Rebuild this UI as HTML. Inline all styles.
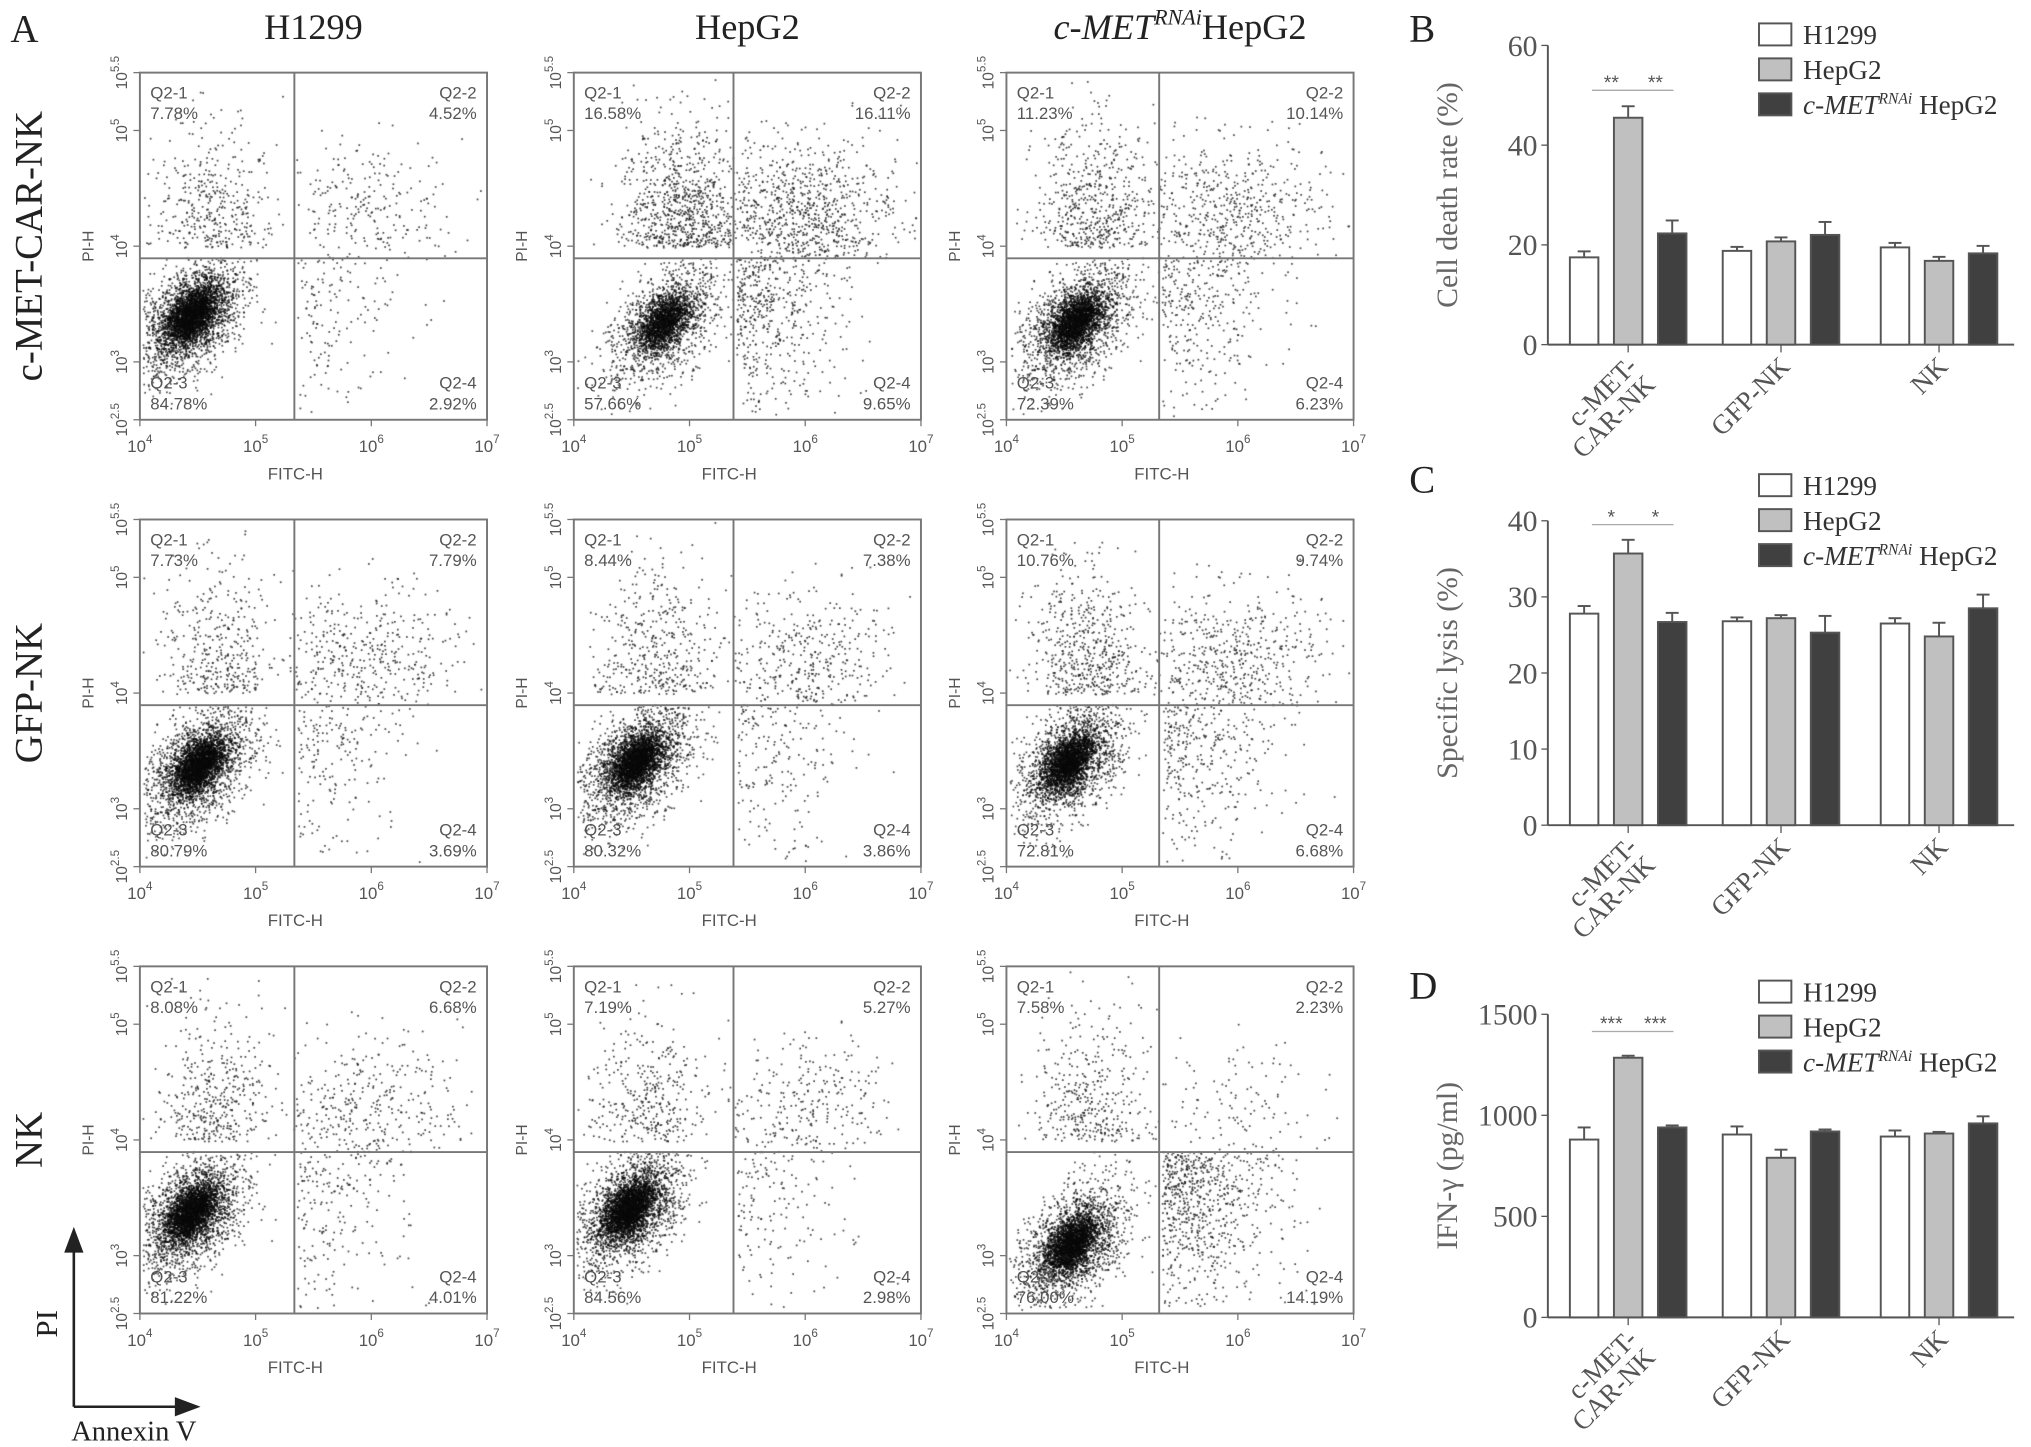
<!DOCTYPE html>
<html><head><meta charset="utf-8"><style>
html,body{margin:0;padding:0;background:#fff;width:2031px;height:1447px;overflow:hidden}
#wrap{position:relative;width:2031px;height:1447px}
svg,canvas{position:absolute;left:0;top:0}
</style></head><body>
<div id="wrap">
<canvas id="cv" width="2031" height="1447"></canvas>
<svg id="sv" width="2031" height="1447" viewBox="0 0 1568 1117" font-family="Liberation Sans, sans-serif"></svg>
</div>
<script>
// ---------- data ----------
const rowLabels = ["c-MET-CAR-NK","GFP-NK","NK"];
const q1 = [[7.78,16.58,11.23],[7.73,8.44,10.76],[8.08,7.19,7.58]];
const q2 = [[4.52,16.11,10.14],[7.79,7.38,9.74],[6.68,5.27,2.23]];
const q3 = [[84.78,57.66,72.39],[80.79,80.32,72.81],[81.22,84.56,76.00]];
const q4 = [[2.92,9.65,6.23],[3.69,3.86,6.68],[4.01,2.98,14.19]];
const gateX = [[0.445,0.46,0.44],[0.445,0.46,0.44],[0.445,0.46,0.44]];
const gateY = [[0.465,0.465,0.465],[0.465,0.465,0.465],[0.465,0.465,0.465]];
const clusterX = [[0.15,0.26,0.20],[0.17,0.18,0.18],[0.15,0.16,0.19]];
const clusterY = [[0.30,0.28,0.28],[0.29,0.30,0.30],[0.29,0.30,0.20]];

const groups = ["c-MET-|CAR-NK","GFP-NK","NK"];
const seriesNames = ["H1299","HepG2","c-MET RNAi HepG2"];
const bH = [17.5,18.8,19.5], bHe=[1.2,0.8,0.9];
const bG = [45.5,20.7,16.8], bGe=[2.3,0.8,0.8];
const bM = [22.3,22.0,18.3], bMe=[2.6,2.6,1.5];
const cH = [27.8,26.8,26.5], cHe=[1.0,0.5,0.7];
const cG = [35.7,27.2,24.8], cGe=[1.8,0.4,1.8];
const cM = [26.7,25.3,28.5], cMe=[1.2,2.2,1.8];
const dH = [880,905,895], dHe=[60,40,30];
const dG = [1285,790,910], dGe=[10,40,8];
const dM = [940,920,960], dMe=[10,10,35];
const bTicks=[0,20,40,60], cTicks=[0,10,20,30,40], dTicks=[0,500,1000,1500];

// ---------- helpers ----------
const NS="http://www.w3.org/2000/svg";
const sv=document.getElementById('sv');
function mk(tag,at,parent){const e=document.createElementNS(NS,tag);for(const k in at)e.setAttribute(k,at[k]);(parent||sv).appendChild(e);return e;}
function tx(x,y,s,at,parent){const e=mk('text',Object.assign({x:x,y:y},at),parent);e.textContent=s;return e;}
const ctx=document.getElementById('cv').getContext('2d');
ctx.scale(2031/1568,1447/1117);
let seed=12345;function rnd(){seed=(seed*1103515245+12345)&0x7fffffff;return seed/0x7fffffff;}
function gauss(){let u=rnd()||1e-6,v=rnd();return Math.sqrt(-2*Math.log(u))*Math.cos(2*Math.PI*v);}

// ---------- titles ----------
let t;
t=tx(8,32,"A",{'font-family':'Liberation Serif, serif','font-size':30,fill:'#222'});
const colX=[108,443,777], rowY=[56,401,746], S=268;
const heads=["H1299","HepG2",null];
heads.forEach((h,i)=>{if(h){const e=tx(colX[i]+S/2,30,h,{'font-family':'Liberation Serif, serif','font-size':28,fill:'#222','text-anchor':'middle'});}});
{const e=mk('text',{x:colX[2]+S/2,y:30,'font-family':'Liberation Serif, serif','font-size':28,fill:'#222','text-anchor':'middle'});

e.innerHTML='<tspan font-style="italic">c-MET</tspan><tspan font-style="italic" font-size="17" dy="-11">RNAi</tspan><tspan dy="11">HepG2</tspan>';}
rowLabels.forEach((r,i)=>{const cy=rowY[i]+S/2;const e=tx(0,0,r,{'font-family':'Liberation Serif, serif','font-size':30,fill:'#222','text-anchor':'middle',transform:`translate(32,${cy}) rotate(-90)`});});
{const g=mk('g',{stroke:'#222','stroke-width':2,fill:'#222'});
mk('line',{x1:57,y1:1086,x2:57,y2:962},g);mk('polygon',{points:'51,966 63,966 57,950'},g);
mk('line',{x1:57,y1:1086,x2:140,y2:1086},g);mk('polygon',{points:'136,1080 136,1092 152,1086'},g);
let e=tx(0,0,"PI",{'font-family':'Liberation Serif, serif','font-size':24,fill:'#222','text-anchor':'middle',transform:'translate(44,1022) rotate(-90)'});
e=tx(55,1112,"Annexin V",{'font-family':'Liberation Serif, serif','font-size':22,fill:'#222'});}

// ---------- flow panels ----------
const xt=["4","5","6","7"], yt=[["2.5",0],["3",1/6],["4",0.5],["5",5/6],["5.5",1]];
for(let r=0;r<3;r++)for(let c=0;c<3;c++){
  const x0=colX[c], y0=rowY[r];
  const g=mk('g',{});
  const gx=x0+gateX[r][c]*S, gy=y0+S-gateY[r][c]*S;
  const N=5000, gfx=gateX[r][c], gfy=gateY[r][c];
  const quads=[[q1[r][c],0],[q2[r][c],1],[q3[r][c],2],[q4[r][c],3]];
  quads.forEach(([p,q])=>{const n=Math.round(N*p/100);
    for(let k=0;k<n;k++){let fx,fy,tries=0;
      do{ if(q===2){const a=gauss(),b=gauss();const core=rnd()<0.55;const s=core?0.6:1.3;
            fx=clusterX[r][c]+(a*0.05+b*0.035)*s;fy=clusterY[r][c]+(a*0.06-b*0.03)*s;}
        else if(q===0){fx=clusterX[r][c]+0.06+gauss()*0.09;fy=gfy+0.03+Math.abs(gauss())*0.17;}
        else if(q===1){fx=gfx+0.2+gauss()*0.14;fy=gfy+0.12+gauss()*0.11;}
        else {fx=gfx+0.01+Math.abs(gauss())*0.15;fy=gfy-Math.abs(gauss())*0.22;}
        tries++;
      }while(tries<30&&(fx<0.01||fx>0.99||fy<0.01||fy>0.99||((q===0||q===2)&&fx>gfx)||((q===1||q===3)&&fx<gfx)||((q===0||q===1)&&fy<gfy)||((q===2||q===3)&&fy>gfy)));
      ctx.fillStyle=q===2?'rgba(10,10,10,0.75)':'rgba(30,30,30,0.85)';
      ctx.fillRect(x0+fx*S-0.65,y0+S-fy*S-0.65,1.3,1.3);}
  });
  const box=mk('rect',{x:x0,y:y0,width:S,height:S,fill:'none',stroke:'#777','stroke-width':1.5},g);
  
  let l=mk('line',{x1:gx,y1:y0,x2:gx,y2:y0+S,stroke:'#777','stroke-width':1.5},g);
  l=mk('line',{x1:x0,y1:gy,x2:x0+S,y2:gy,stroke:'#777','stroke-width':1.5},g);
  xt.forEach((v,i)=>{const xx=x0+i*S/3;mk('line',{x1:xx,y1:y0+S,x2:xx,y2:y0+S+5,stroke:'#777'},g);
    const e=mk('text',{x:xx,y:y0+S+25,'font-size':13,fill:'#555','text-anchor':'middle'},g);
    e.innerHTML='10<tspan font-size="9" dy="-7">'+v+'</tspan>';});
  yt.forEach(([v,f])=>{const yy=y0+S-f*S;mk('line',{x1:x0-5,y1:yy,x2:x0,y2:yy,stroke:'#777'},g);
    const e=mk('text',{'font-size':12,fill:'#555','text-anchor':'middle',transform:`translate(${x0-10},${yy}) rotate(-90)`},g);
    e.innerHTML='10<tspan font-size="9" dy="-6">'+v+'</tspan>';});
  let e=tx(x0+S/2-14,y0+S+46,"FITC-H",{'font-size':13,fill:'#555','text-anchor':'middle'},g);
  e=tx(0,0,"PI-H",{'font-size':12,fill:'#555','text-anchor':'middle',transform:`translate(${x0-36},${y0+S/2}) rotate(-90)`},g);
  const f=v=>v.toFixed(2)+"%";
  const lab=[[x0+8,y0+20,"Q2-1",'start'],[x0+8,y0+36,f(q1[r][c]),'start'],[x0+S-8,y0+20,"Q2-2",'end'],[x0+S-8,y0+36,f(q2[r][c]),'end'],
    [x0+8,y0+S-24,"Q2-3",'start'],[x0+8,y0+S-8,f(q3[r][c]),'start'],[x0+S-8,y0+S-24,"Q2-4",'end'],[x0+S-8,y0+S-8,f(q4[r][c]),'end']];
  lab.forEach(a=>{const e=tx(a[0],a[1],a[2],{'font-size':13,fill:'#555','text-anchor':a[3]},g);});
}

// ---------- bar charts ----------
function barChart(label,ly,y0,yTop,vmax,ticks,title,H,He,G,Ge,M,Me,stars,sigY){
  const ax=1195, ax2=1555;
  const g=mk('g',{});
  const yv=v=>y0-(v/vmax)*(y0-yTop);
  let e=tx(1088,ly,label,{'font-family':'Liberation Serif, serif','font-size':30,fill:'#222'},g);
  mk('line',{x1:ax,y1:yTop,x2:ax,y2:y0,stroke:'#555','stroke-width':1.5},g);
  mk('line',{x1:ax,y1:y0,x2:ax2,y2:y0,stroke:'#555','stroke-width':1.5},g);
  ticks.forEach(v=>{const yy=yv(v);mk('line',{x1:ax-5,y1:yy,x2:ax,y2:yy,stroke:'#555'},g);
    const e=tx(ax-8,yy+8,String(v),{'font-family':'Liberation Serif, serif','font-size':23,fill:'#555','text-anchor':'end'},g);});
  e=tx(0,0,title,{'font-family':'Liberation Serif, serif','font-size':23,fill:'#666','text-anchor':'middle',transform:`translate(1125,${(y0+yTop)/2}) rotate(-90)`},g);
  const centers=[1257,1375,1497], fills=['#fff','#c0c0c0','#404040'], data=[[H,He],[G,Ge],[M,Me]];
  centers.forEach((cx,gi)=>{
    mk('line',{x1:cx,y1:y0,x2:cx,y2:y0+6,stroke:'#555'},g);
    data.forEach(([v,er],si)=>{const bx=cx-11-34+si*34, top=yv(v[gi]);
      const b=mk('rect',{x:bx,y:top,width:22,height:y0-top,fill:fills[si],stroke:'#555','stroke-width':1.5},g);
      
      const et=yv(v[gi]+er[gi]);mk('line',{x1:bx+11,y1:top,x2:bx+11,y2:et,stroke:'#555','stroke-width':1.5},g);
      mk('line',{x1:bx+6,y1:et,x2:bx+16,y2:et,stroke:'#555','stroke-width':1.5},g);});
    const parts=groups[gi].split('|');
    parts.forEach((p,pi)=>{const e=tx(0,0,p,{'font-family':'Liberation Serif, serif','font-size':21,fill:'#555','text-anchor':'end',transform:`translate(${cx+8+pi*14},${y0+18+pi*14}) rotate(-45)`},g);});
  });
  const sy=yv(sigY);
  mk('line',{x1:1229,y1:sy,x2:1292,y2:sy,stroke:'#aaa','stroke-width':1},g);
  [1244,1278].forEach(sx=>{const e=tx(sx,sy-1,stars,{'font-size':15,fill:'#555','text-anchor':'middle'},g);});
  const ly0=ly-6;
  seriesNames.forEach((n,i)=>{const yy=ly0+i*27;
    const r=mk('rect',{x:1358,y:yy-8,width:25,height:17,fill:fills[i],stroke:'#555','stroke-width':1.5},g);
    const e=mk('text',{x:1392,y:yy+8,'font-family':'Liberation Serif, serif','font-size':21,fill:'#333'},g);
    if(i<2)e.textContent=n;else e.innerHTML='<tspan font-style="italic">c-MET</tspan><tspan font-style="italic" font-size="12" dy="-8">RNAi</tspan><tspan dy="8"> HepG2</tspan>';});
}
barChart("B",32,266,35,60,bTicks,"Cell death rate (%)",bH,bHe,bG,bGe,bM,bMe,"**",51);
barChart("C",380,637,402,40,cTicks,"Specific  lysis (%)",cH,cHe,cG,cGe,cM,cMe,"*",39.5);
barChart("D",771,1017,783,1500,dTicks,"IFN-γ (pg/ml)",dH,dHe,dG,dGe,dM,dMe,"***",1415);
</script>
</body></html>
